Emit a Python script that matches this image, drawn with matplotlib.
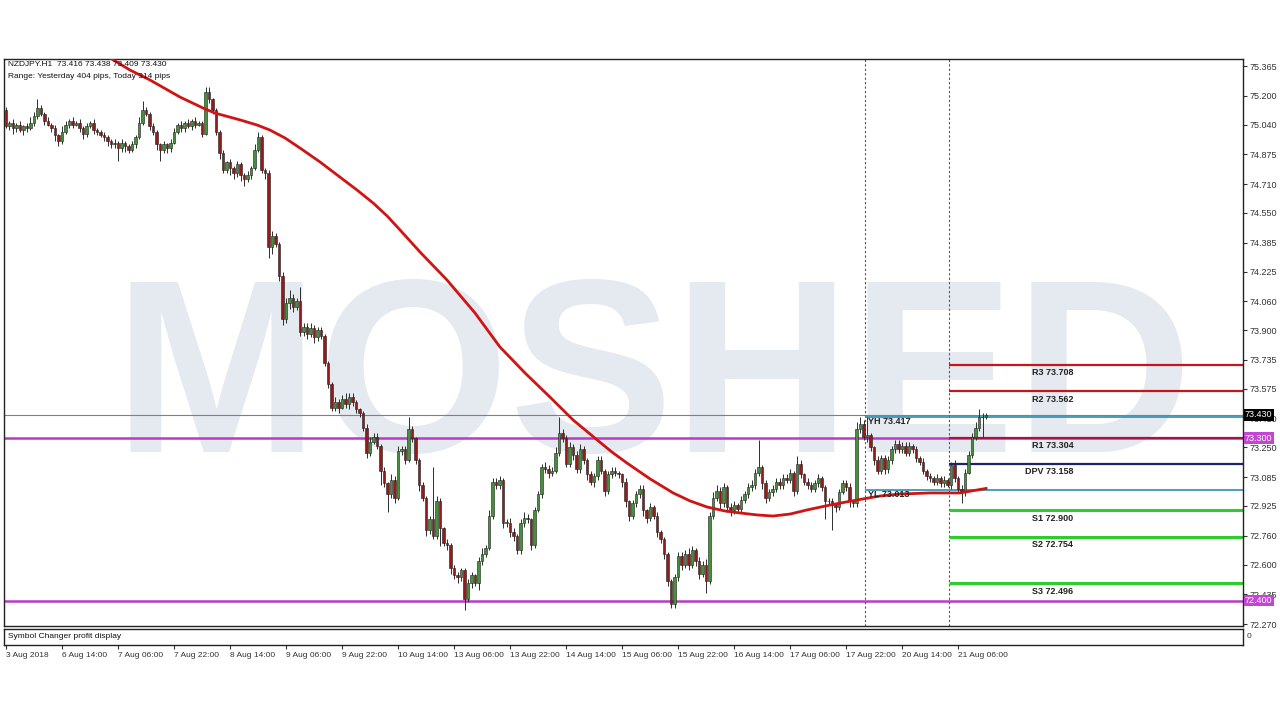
import matplotlib
matplotlib.use("Agg")
import matplotlib.pyplot as plt
import matplotlib.transforms as mtransforms
import numpy as np

plt.rcParams['font.family'] = ['Liberation Sans', 'DejaVu Sans']

symbol_line = "NZDJPY.H1  73.416 73.438 73.409 73.430"
range_line = "Range: Yesterday 404 pips, Today 314 pips"
indicator_name = "Symbol Changer profit display"
watermark = "MOSHED"

# H1 candles (open = previous close)
first_open = 75.12
closes = [
    75.03, 75.05, 75.02, 75.04, 75.01, 75.03, 75.02, 75.05, 75.09, 75.13,
    75.10, 75.06, 75.04, 75.02, 74.98, 74.95, 75.00, 75.04, 75.06, 75.04,
    75.05, 75.02, 74.99, 75.03, 75.05, 75.01, 75.00, 74.98, 74.97, 74.95,
    74.93, 74.94, 74.91, 74.94, 74.92, 74.90, 74.93, 74.97, 75.05, 75.12,
    75.10, 75.03, 75.00, 74.93, 74.90, 74.93, 74.91, 74.94, 75.00, 75.04,
    75.02, 75.05, 75.03, 75.06, 75.04, 75.05, 74.99, 75.22, 75.18, 75.12,
    75.00, 74.88, 74.79, 74.83, 74.80, 74.77, 74.82, 74.76, 74.74, 74.76,
    74.80, 74.90, 74.97, 74.79, 74.77, 74.36, 74.42, 74.38, 74.20, 73.96,
    74.05, 74.08, 74.03, 74.06, 73.89, 73.92, 73.88, 73.91, 73.86, 73.90,
    73.87, 73.72, 73.60, 73.47, 73.50, 73.47, 73.52, 73.49, 73.53, 73.50,
    73.46, 73.44, 73.36, 73.22, 73.28, 73.31, 73.26, 73.12, 73.05, 72.99,
    73.07, 72.97, 73.23, 73.24, 73.18, 73.35, 73.30, 73.18, 73.04, 72.97,
    72.79, 72.85, 72.76, 72.95, 72.80, 72.72, 72.71, 72.58, 72.54, 72.53,
    72.57, 72.41, 72.50, 72.54, 72.50, 72.62, 72.66, 72.69, 72.87, 73.06,
    73.04, 73.07, 72.83, 72.83, 72.78, 72.76, 72.68, 72.83, 72.86, 72.85,
    72.71, 72.90, 72.99, 73.14, 73.13, 73.11, 73.12, 73.22, 73.33, 73.30,
    73.16, 73.25, 73.21, 73.13, 73.24, 73.18, 73.10, 73.06, 73.09, 73.18,
    73.12, 73.01, 73.10, 73.12, 73.11, 73.10, 73.06, 72.95, 72.87, 72.94,
    72.99, 73.02, 72.90, 72.86, 72.92, 72.87, 72.78, 72.74, 72.66, 72.51,
    72.38, 72.53, 72.65, 72.60, 72.66, 72.60, 72.68, 72.62, 72.55, 72.60,
    72.51, 72.87, 72.97, 73.01, 72.94, 73.03, 72.92, 72.90, 72.93, 72.91,
    72.96, 72.99, 73.03, 73.04, 73.11, 73.14, 73.05, 72.97, 73.00, 73.02,
    73.06, 73.04, 73.08, 73.07, 73.11, 73.01, 73.16, 73.10, 73.06, 73.04,
    73.02, 73.05, 73.08, 73.03, 72.95, 72.95, 72.93, 72.92, 73.00, 73.05,
    73.03, 72.95, 72.94, 73.35, 73.38, 73.31, 73.32, 73.25, 73.18, 73.12,
    73.19, 73.13, 73.18, 73.24, 73.27, 73.24, 73.26, 73.22, 73.26, 73.24,
    73.19, 73.17, 73.12, 73.09, 73.08, 73.06, 73.08, 73.05, 73.07, 73.04,
    73.15, 73.08, 73.02, 73.00, 73.11, 73.21, 73.31, 73.36, 73.42, 73.416,
    73.430,
]
# wick lengths above / below the body, in pips (0.01)
upper_wick = [
    2, 1, 2, 1, 2, 1, 2, 3, 2, 5, 2, 1, 2, 1, 2, 1, 3, 2, 1, 2,
    1, 2, 1, 2, 1, 2, 1, 1, 2, 1, 1, 2, 1, 2, 1, 1, 2, 1, 3, 5,
    2, 1, 2, 1, 1, 2, 1, 2, 2, 1, 2, 1, 2, 1, 2, 1, 1, 3, 3, 1,
    1, 1, 2, 1, 2, 1, 2, 1, 1, 2, 1, 3, 3, 1, 1, 2, 3, 2, 1, 2,
    3, 4, 2, 2, 8, 2, 2, 3, 2, 2, 2, 1, 1, 1, 3, 2, 2, 3, 2, 2,
    1, 1, 1, 2, 3, 2, 2, 1, 2, 1, 3, 2, 3, 2, 2, 7, 2, 1, 1, 2,
    1, 2, 29, 3, 2, 1, 2, 1, 2, 2, 1, 1, 2, 2, 1, 2, 3, 2, 3, 2,
    2, 2, 1, 2, 3, 2, 1, 2, 3, 2, 1, 2, 2, 2, 3, 2, 2, 3, 9, 2,
    2, 3, 2, 2, 3, 2, 1, 2, 2, 2, 2, 1, 2, 2, 2, 1, 1, 2, 1, 2,
    2, 2, 2, 1, 2, 1, 2, 1, 1, 1, 1, 2, 2, 2, 2, 3, 2, 1, 2, 2,
    3, 2, 3, 3, 2, 2, 1, 2, 2, 1, 2, 2, 2, 3, 2, 15, 1, 2, 2, 2,
    2, 2, 2, 2, 2, 1, 4, 2, 1, 2, 2, 2, 2, 1, 1, 2, 2, 1, 2, 2,
    2, 2, 1, 4, 4, 2, 10, 1, 1, 2, 2, 2, 2, 2, 2, 2, 2, 2, 2, 1,
    2, 1, 2, 1, 2, 1, 2, 1, 2, 1, 2, 3, 1, 2, 2, 2, 2, 3, 4, 2.2,
    0.8,
]
lower_wick = [
    1, 2, 3, 2, 1, 3, 2, 1, 2, 2, 1, 2, 1, 2, 3, 3, 2, 1, 2, 2,
    1, 2, 3, 2, 1, 2, 2, 1, 2, 3, 2, 2, 7, 2, 3, 2, 1, 2, 1, 1,
    1, 2, 2, 3, 6, 2, 3, 2, 1, 1, 2, 2, 1, 2, 2, 1, 2, 1, 2, 2,
    2, 3, 2, 2, 4, 3, 2, 3, 4, 2, 2, 1, 1, 2, 3, 6, 4, 2, 3, 3,
    2, 3, 3, 2, 2, 2, 3, 2, 3, 2, 2, 2, 2, 2, 2, 3, 1, 2, 3, 2,
    2, 2, 2, 3, 2, 1, 2, 8, 2, 10, 2, 3, 1, 2, 2, 1, 2, 2, 3, 2,
    3, 2, 2, 2, 10, 2, 3, 3, 2, 3, 2, 6, 2, 3, 2, 4, 2, 2, 1, 2,
    2, 2, 3, 2, 3, 3, 2, 2, 2, 2, 3, 2, 1, 2, 2, 3, 2, 1, 2, 2,
    2, 2, 3, 2, 2, 2, 3, 2, 3, 2, 2, 3, 2, 2, 2, 2, 3, 3, 3, 2,
    2, 2, 3, 3, 2, 2, 3, 2, 3, 3, 2, 2, 2, 3, 2, 3, 2, 3, 3, 2,
    7, 2, 2, 2, 3, 2, 3, 3, 2, 2, 2, 2, 2, 2, 2, 2, 3, 3, 2, 2,
    2, 2, 2, 2, 2, 3, 2, 2, 2, 2, 2, 2, 2, 2, 10, 2, 14, 3, 2, 1,
    2, 3, 2, 2, 2, 2, 3, 2, 3, 2, 2, 3, 2, 2, 2, 2, 2, 2, 2, 2,
    2, 2, 2, 2, 2, 2, 2, 2, 2, 1, 2, 2, 2, 6, 2, 1, 2, 2, 2, 11,
    0.7,
]

# red moving average, sampled along its path
ma_bars = [26.9, 35.4, 41.1, 49.7, 56.3, 59.7, 66.9, 71.7, 75.4, 79.7, 84.0,
           89.7, 95.4, 100.3, 104.9, 108.9, 112.6, 118.3, 126.0, 134.0, 141.1,
           148.3, 155.4, 162.0, 168.9, 173.1, 177.4, 184.0, 190.6, 195.4,
           200.3, 205.4, 209.7, 214.6, 219.1, 224.0, 228.9, 235.4, 243.1,
           249.7, 255.4, 264.0, 272.6, 280.0]
ma_values = [75.443, 75.343, 75.288, 75.193, 75.132, 75.104, 75.066, 75.038,
             75.010, 74.966, 74.910, 74.833, 74.749, 74.677, 74.605, 74.533,
             74.455, 74.333, 74.178, 73.995, 73.807, 73.662, 73.529, 73.402,
             73.291, 73.224, 73.163, 73.075, 72.997, 72.953, 72.919, 72.897,
             72.886, 72.875, 72.869, 72.880, 72.903, 72.930, 72.958, 72.980,
             72.991, 72.997, 72.997, 73.022]

price_ticks = [75.365, 75.200, 75.040, 74.875, 74.710, 74.550, 74.385, 74.225,
               74.060, 73.900, 73.735, 73.575, 73.410, 73.250, 73.085, 72.925,
               72.760, 72.600, 72.435, 72.270]
date_bars = [0, 16, 32, 48, 64, 80, 96, 112, 128, 144, 160, 176, 192, 208,
             224, 240, 256, 272]
date_labels = ["3 Aug 2018", "6 Aug 14:00", "7 Aug 06:00", "7 Aug 22:00",
               "8 Aug 14:00", "9 Aug 06:00", "9 Aug 22:00", "10 Aug 14:00",
               "13 Aug 06:00", "13 Aug 22:00", "14 Aug 14:00", "15 Aug 06:00",
               "15 Aug 22:00", "16 Aug 14:00", "17 Aug 06:00", "17 Aug 22:00",
               "20 Aug 14:00", "21 Aug 06:00"]

current_price = 73.430
magenta_levels = [73.300, 72.400]
yh_value = 73.417
yl_value = 73.013
separator_bars = [245.3, 269.3]
pivot_names = ["R3", "R2", "R1", "DPV", "S1", "S2", "S3"]
pivot_values = [73.708, 73.562, 73.304, 73.158, 72.900, 72.754, 72.496]
pivot_colors = ["#c4161c", "#c4161c", "#a8124a", "#1c2470",
                "#2ecc2e", "#2ecc2e", "#2ecc2e"]

W, H = 1280, 720
fig = plt.figure(figsize=(12.8, 7.2), dpi=100)
fig.patch.set_facecolor("white")

ax = fig.add_axes([4 / W, 1 - 626 / H, 1239 / W, 567 / H])
ax2 = fig.add_axes([4 / W, 1 - 645 / H, 1239 / W, 16 / H])

xmin, xmax = -0.57, 353.4
ymin, ymax = 72.259, 75.404
ax.set_xlim(xmin, xmax)
ax.set_ylim(ymin, ymax)
ax2.set_xlim(xmin, xmax)
ax2.set_ylim(0, 1)

# watermark
ax.text(185, 73.224, watermark, fontsize=177, fontweight="bold",
        color="#e5e9f0", ha="center", va="baseline", zorder=0)

# horizontal levels across the whole chart
ax.axhline(current_price, color="#808080", lw=0.8, zorder=1)
for lv in magenta_levels:
    ax.axhline(lv, color="#b63cc6", lw=1.8, zorder=1)

for sx in separator_bars:
    ax.axvline(sx, color="#555555", lw=0.8, linestyle=(0, (2, 2)), zorder=1)

ax.hlines([yh_value, yl_value], separator_bars[0], xmax, color="#2a8db2",
          lw=1.2, zorder=1)
ax.text(separator_bars[0] + 1, yh_value, "YH %.3f" % yh_value, fontsize=6.5,
        fontweight="bold", color="#222222", va="top", ha="left", zorder=6)
ax.text(separator_bars[0] + 1, yl_value, "YL %.3f" % yl_value, fontsize=6.5,
        fontweight="bold", color="#222222", va="top", ha="left", zorder=6)

for name, val, col in zip(pivot_names, pivot_values, pivot_colors):
    lw = 2.2 if name.startswith("S") else 1.6
    ax.hlines(val, separator_bars[1], xmax, color=col, lw=lw, zorder=1)
    tx = 291.2 if name == "DPV" else 293.0
    ax.annotate("%s %.3f" % (name, val), xy=(tx, val), xytext=(0, -2.5),
                textcoords="offset points", fontsize=6.5, fontweight="bold",
                color="#222222", va="top", ha="left", zorder=6)

# candles
closes_a = np.array(closes)
opens_a = np.array([first_open] + closes[:-1])
highs = np.maximum(opens_a, closes_a) + np.array(upper_wick) * 0.01
lows = np.minimum(opens_a, closes_a) - np.array(lower_wick) * 0.01
bars = np.arange(len(closes))
ax.vlines(bars, lows, highs, color="#2e2e2e", lw=0.7, zorder=3)
bull = closes_a >= opens_a
body_lo = np.minimum(opens_a, closes_a)
body_h = np.maximum(np.abs(closes_a - opens_a), 0.004)
ax.bar(bars[bull], body_h[bull], bottom=body_lo[bull], width=0.7,
       color="#43923a", edgecolor="#1e1e1e", linewidth=0.4, zorder=4)
ax.bar(bars[~bull], body_h[~bull], bottom=body_lo[~bull], width=0.7,
       color="#951b1b", edgecolor="#1e1e1e", linewidth=0.4, zorder=4)

ax.plot(ma_bars, ma_values, color="#d01414", lw=2, zorder=5,
        solid_joinstyle="round")

# header text
fig.text(8 / W, 1 - 61 / H, symbol_line, fontsize=6, color="#111111",
         va="top", ha="left")
fig.text(8 / W, 1 - 73 / H, range_line, fontsize=6, color="#111111",
         va="top", ha="left")

# price axis on the right
ax.yaxis.tick_right()
ax.set_yticks(price_ticks)
ax.set_yticklabels(["%.3f" % v for v in price_ticks])
ax.tick_params(axis="y", direction="out", length=3, width=0.8, pad=2,
               labelsize=6.5, colors="#333333")
ax.set_xticks([])
for s in ax.spines.values():
    s.set_color("#222222")
    s.set_linewidth(1)

blend = mtransforms.blended_transform_factory(ax.transAxes, ax.transData)
ax.text(1.0015, current_price, "%.3f" % current_price, transform=blend,
        fontsize=6.5, color="white", va="center", ha="left", zorder=10,
        bbox=dict(boxstyle="square,pad=0.15", fc="black", ec="none"))
for lv in magenta_levels:
    ax.text(1.0015, lv, "%.3f" % lv, transform=blend, fontsize=6.5,
            color="white", va="center", ha="left", zorder=10,
            bbox=dict(boxstyle="square,pad=0.15", fc="#c246d2", ec="none"))

# indicator sub window and date axis
ax2.set_yticks([])
ax2.text(0.0035, 0.5, indicator_name, transform=ax2.transAxes, fontsize=6,
         color="#111111", va="center", ha="left")
ax2.text(1.003, 0.5, "0", transform=ax2.transAxes, fontsize=6,
         color="#333333", va="center", ha="left")
ax2.set_xticks(date_bars)
ax2.set_xticklabels(date_labels)
ax2.tick_params(axis="x", direction="out", length=3, width=0.8, pad=2,
                labelsize=6, colors="#333333")
for lab in ax2.get_xticklabels():
    lab.set_horizontalalignment("left")
for s in ax2.spines.values():
    s.set_color("#222222")
    s.set_linewidth(1)

fig.savefig("out.png", dpi=100, facecolor="white")
